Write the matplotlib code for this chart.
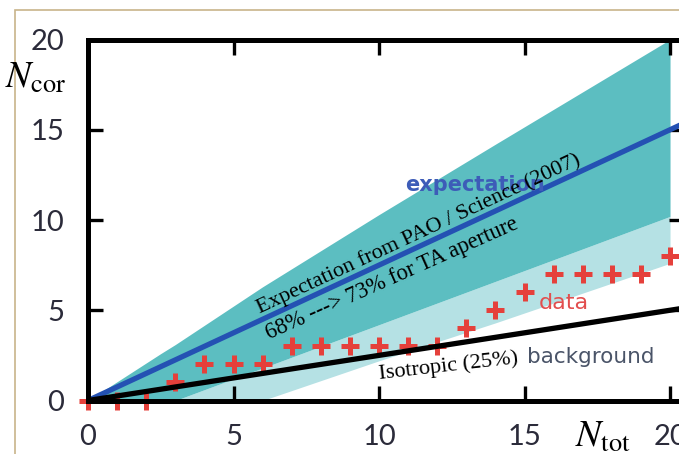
import matplotlib
matplotlib.use("Agg")
import matplotlib.pyplot as plt
from matplotlib.patches import Rectangle

# ---- data ----
n_tot = [0, 1, 2, 3, 4, 5, 6, 7, 8, 9, 10, 11, 12, 13, 14, 15, 16, 17, 18, 19, 20]
n_cor = [0, 0, 0, 1, 2, 2, 2, 3, 3, 3, 3, 3, 3, 4, 5, 6, 7, 7, 7, 7, 8]

band_x = [0, 2.5, 3, 6, 10, 14, 20]
band_upper = [0, 2.6, 3.1, 6.3, 10.3, 14.2, 20]
band_dark_lower = [0, 0, 0, 1.8, 4.2, 6.6, 10.2]
band_light_lower = [0, 0, 0, 0, 2.2, 4.3, 7.6]

line_x = [0, 21]
expect_y = [0, 15.75]
background_y = [0, 5.25]

x_ticks = [0, 5, 10, 15, 20]
y_ticks = [0, 5, 10, 15, 20]

# ---- style ----
W, H = 679, 454
fig = plt.figure(figsize=(W / 100, H / 100), dpi=100)
fig.patch.set_facecolor("white")

# outer scan frame
fig.patches.append(Rectangle((15 / W, -0.1), 1.2, 1 - 10 / H + 0.1,
                             transform=fig.transFigure, fill=False,
                             edgecolor="#C8B48A", linewidth=1.2))

left, right, top, bottom = 88, 684, 39.5, 400.5
ax = fig.add_axes([left / W, (H - bottom) / H, (right - left) / W, (bottom - top) / H])
ax.set_xlim(0, 20.48)
ax.set_ylim(0, 20)

dark = "#5CBEC1"
light = "#B5E1E4"
ax.fill_between(band_x, band_light_lower, band_dark_lower, color=light, lw=0, zorder=1)
ax.fill_between(band_x, band_dark_lower, band_upper, color=dark, lw=0, zorder=1.1)

ax.plot(line_x, expect_y, color="#2451B3", lw=3.8, zorder=3, solid_capstyle="butt")
ax.plot(n_tot, n_cor, linestyle="none", marker="+", markersize=13, mew=3.6,
        color="#E5403B", zorder=2.4, clip_on=False)
ax.plot(line_x, background_y, color="black", lw=3.8, zorder=3.2, solid_capstyle="butt")

for s in ax.spines.values():
    s.set_linewidth(3.6)
    s.set_zorder(4)

ax.set_xticks(x_ticks)
ax.set_yticks(y_ticks)
ax.tick_params(direction="in", length=11, width=2.4, top=True, right=True,
               labelsize=21, labelcolor="#2B2B3A", pad=17, color="black")
for lab in ax.get_xticklabels() + ax.get_yticklabels():
    lab.set_fontfamily("Lato")

# axis labels
plt.rcParams["mathtext.fontset"] = "stix"
fig.text(5 / W, 1 - 88 / H, r"$N_{\mathrm{cor}}$", fontsize=27, ha="left", va="baseline")
fig.text(575 / W, 1 - 447 / H, r"$N_{\mathrm{tot}}$", fontsize=27, ha="left", va="baseline")

# annotations
serif = ["Liberation Serif", "DejaVu Serif"]
ax.text(11.36, 9.2, "Expectation from PAO / Science (2007)", family=serif, fontsize=16,
        rotation=25, rotation_mode="anchor", ha="center", va="center", zorder=5)
ax.text(10.45, 6.74, "68% ---> 73% for TA aperture", family=serif, fontsize=16.3,
        rotation=24, rotation_mode="anchor", ha="center", va="center", zorder=5)
ax.text(12.4, 1.88, "Isotropic (25%)", family=serif, fontsize=16,
        rotation=6.5, rotation_mode="anchor", ha="center", va="center", zorder=5)

ax.text(10.9, 11.6, "expectation", color="#3D5CB8", fontsize=15, fontweight="bold",
        family="DejaVu Sans", ha="left", va="baseline", zorder=4.5)
ax.text(15.5, 5.05, "data", color="#E24E4E", fontsize=16, family="DejaVu Sans",
        ha="left", va="baseline", zorder=4.5)
ax.text(15.1, 2.07, "background", color="#4A5468", fontsize=15.5, family="DejaVu Sans",
        ha="left", va="baseline", zorder=4.5)

fig.savefig("out.png", dpi=100)
